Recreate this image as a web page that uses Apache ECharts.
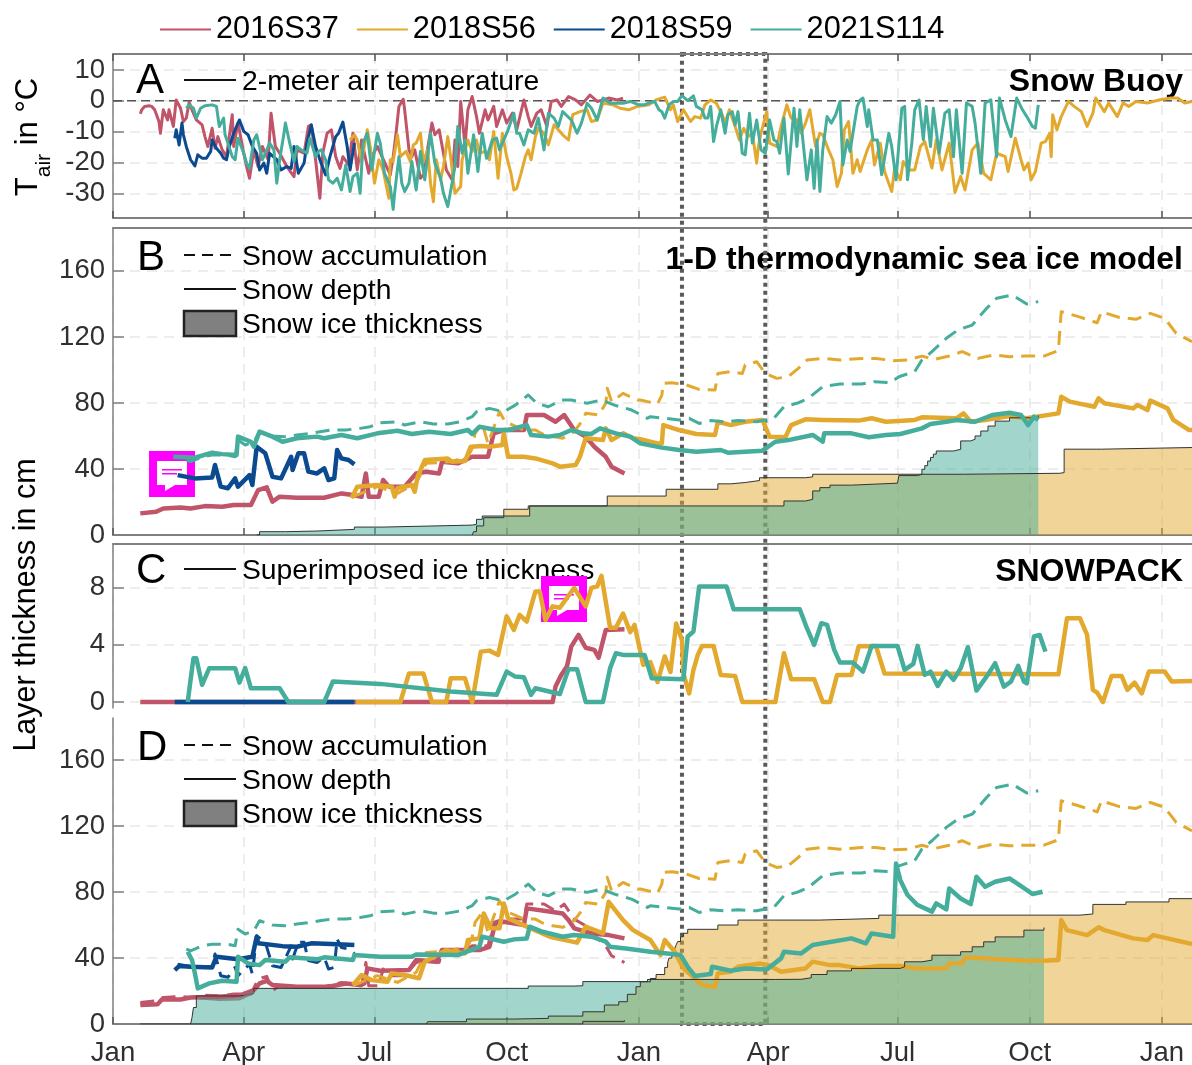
<!DOCTYPE html>
<html>
<head>
<meta charset="utf-8">
<title>Snow on sea ice</title>
<script src="https://cdn.jsdelivr.net/npm/echarts@6/dist/echarts.min.js"></script>
<style>
  html, body { margin: 0; padding: 0; background: #fff; }
  #chart { width: 1192px; height: 1065px; }
</style>
</head>
<body>
<div id="chart"></div>
<script>
// x values are days since the first January on the axis
var monthDays = [0, 91, 182, 274, 366, 456, 546, 638, 730];
var monthLabels = ['Jan', 'Apr', 'Jul', 'Oct', 'Jan', 'Apr', 'Jul', 'Oct', 'Jan'];
var buoys = ['2016S37', '2018S56', '2018S59', '2021S114'];
var highlightDays = [396, 454];

var tempTicks = [-30, -20, -10, 0, 10];
var thicknessTicks = [0, 40, 80, 120, 160];
var superTicks = [0, 4, 8];

// A: 2-meter air temperature
var airT_2016S37 = [[19,-4.2],[20,-2.9],[22,-1.8],[25,-1.6],[27,-1.8],[29,-2.9],[32,-6.7],[33,-10.5],[35,-2.9],[36,-2.4],[38,-6.2],[39,-2.9],[42,-8.3],[44,0.3],[47,-2.4],[49,-6.7],[51,-5.6],[53,-0.5],[55,-2.9],[58,-6.2],[62,-7.8],[64,-11.6],[66,-14.8],[69,-8.9],[71,-15.4],[73,-11.6],[76,-15.9],[79,-18.1],[83,-4.5],[84,-14.8],[87,-7.2],[91,-17],[93,-21.3],[95,-25.1],[98,-15.9],[101,-21.3],[104,-14.8],[106,-17],[108,-19.1],[110,-4],[113,-14.8],[116,-17],[121,-21.3],[126,-24.6],[128,-15.9],[133,-17],[136,-8.3],[138,-7.8],[141,-19.1],[144,-31.6],[146,-17],[149,-10.5],[152,-9.4],[155,-18.1],[158,-21.9],[160,-18.1],[164,-20.8],[167,-10.5],[170,-22.4],[173,-12.7],[178,-23.5],[180,-18.1],[184,-14.8],[193,-24],[195,-18.1],[197,-10.5],[199,-1.8],[202,0.5],[203,-2.9],[206,-15.9],[208,-18.1],[210,-15.9],[214,-25.1],[217,-23.5],[218,-18.1],[222,-7.2],[224,-11],[227,-9.4],[230,-17],[232,-22.4],[236,-25.6],[238,-12.7],[240,-21.3],[242,-0.2],[245,-14.8],[247,-2.9],[250,1.4],[253,-5.1],[255,-10.5],[259,-2.9],[261,-6.2],[265,-1.8],[267,-8.3],[271,-2.9],[274,-7.2],[278,-4],[281,-9.4],[286,0.3],[289,-5.1],[291,-8.3],[295,-4],[298,-2.9],[302,-8.3],[305,-0.2],[309,0.3],[312,-1.8],[317,1.4],[322,0.3],[326,-1.3],[332,1.9],[337,-0.2],[341,0.3],[345,0.9],[351,0.3],[355,0.9]];
var airT_2018S59 = [[43,-12.1],[44,-9.4],[46,-14.3],[48,-7.2],[49,-11],[51,-14.8],[54,-19.1],[57,-21.1],[59,-17.5],[62,-18.6],[65,-18.6],[68,-16.4],[69,-12.7],[72,-15.4],[75,-17],[77,-18.6],[79,-19.1],[81,-14.8],[84,-10.5],[86,-8.3],[88,-6.2],[91,-9.9],[94,-11],[97,-14.8],[100,-17],[102,-22.4],[105,-20.2],[107,-23.5],[109,-17],[114,-19.1],[117,-22.4],[121,-21.3],[124,-21.9],[126,-14.8],[129,-23.5],[133,-20.2],[135,-13.7],[138,-7.8],[141,-14.8],[144,-19.1],[148,-24],[151,-18.1],[155,-11.6],[157,-10.5],[160,-6.9],[163,-14.8],[165,-22.4],[168,-13.7]];
var airT_2021S114 = [[51,-2.4],[53,-1.3],[56,-2.4],[58,-5.6],[61,-2.4],[64,-1.6],[69,-1.3],[72,-1.8],[74,-8.3],[77,-5.6],[78,-11],[80,-13.7],[83,-18.1],[85,-19.1],[87,-12.1],[91,-17],[93,-20.2],[95,-21.9],[98,-12.7],[100,-11],[104,-19.1],[106,-17],[109,-13.7],[112,-15.9],[114,-26.7],[116,-19.1],[119,-10.5],[120,-7.2],[123,-13.7],[126,-19.7],[128,-14.8],[131,-15.9],[135,-17],[137,-12.1],[141,-18.1],[143,-16.4],[145,-15.9],[148,-19.1],[150,-25.6],[153,-26.7],[156,-25.1],[159,-28.9],[162,-20.8],[165,-29.4],[167,-24.6],[170,-23.5],[172,-30],[174,-13.7],[177,-10.5],[180,-22.4],[184,-10.5],[186,-13.7],[189,-23.5],[192,-26.7],[193,-27.8],[195,-35.2],[196,-30],[199,-18.1],[201,-26.7],[203,-29.4],[206,-26.7],[208,-19.7],[211,-28.9],[214,-16.4],[217,-25.6],[221,-10.5],[224,-20.2],[228,-25.1],[230,-30],[233,-34.3],[236,-26.7],[238,-21.3],[240,-8.3],[243,-17],[245,-12.7],[247,-23.5],[251,-11],[254,-22.9],[257,-10.5],[260,-18.6],[264,-12.7],[267,-12.1],[269,-15.9],[273,-11.6],[275,-9.4],[279,-4],[281,-10.5],[283,-10.5],[286,-14.3],[289,-9.4],[293,-10.5],[296,-5.6],[300,-15.9],[303,-4],[307,-5.6],[310,-8.3],[313,-3.5],[319,-6.2],[323,-10.5],[326,-7.2],[330,-0.8],[333,-2.4],[337,-6.2],[341,0.9],[346,-0.8],[351,-0.8],[355,-0.8],[360,-0.2],[366,-1.3],[370,-1.3],[374,-0.5],[377,-0.2],[380,-2.9],[382,-3.5],[384,-5.6],[387,-1.3],[390,-0.2],[393,-0.2],[396,1.7],[400,0.1],[404,1.6],[406,-1.8],[410,-2.9],[412,-5.6],[414,-5.6],[416,-1.8],[418,-13.2],[420,-8.3],[423,-2.9],[426,-10.5],[428,-4.5],[431,-3.5],[433,-7.8],[435,-3.5],[438,-17],[440,-17.5],[443,-4],[445,-13.7],[448,-6.2],[451,-15.9],[454,-17],[457,-6.2],[460,-12.7],[462,-13.2],[464,-17],[467,-5.6],[470,-23.7],[474,-2.4],[476,-14.8],[478,-2.9],[483,-25.6],[486,-15.9],[488,-28.4],[490,-12.7],[492,-29.4],[494,-15.9],[497,-5.1],[500,-7.2],[503,-4.5],[506,-0.2],[508,-20.8],[511,-12.7],[513,-16.4],[515,-10.5],[518,-1.8],[520,0.3],[522,0.9],[525,-8.3],[526,-2.9],[529,-12.7],[532,-12.7],[535,-24],[540,-10.5],[542,-14.8],[545,-25.6],[549,-2.4],[551,-1.8],[553,-25.6],[556,-13.7],[558,-2.9],[561,0.3],[564,-12.6],[566,-1.8],[569,-14.8],[571,-2.4],[575,-17],[579,-4],[582,-2.9],[585,-18.1],[587,-2.9],[591,-23.5],[594,-0.7],[598,-1.8],[600,-7.2],[604,-23.5],[607,-0.7],[611,0.3],[615,-18.1],[617,0.9],[621,-6.2],[625,-11.6],[629,0.9],[633,-2.9],[636,-5.1],[640,-8.3],[642,-8.9],[644,-1.3]];
var airT_2018S56 = [[165,-12.7],[168,-11],[170,-12.7],[173,-19.7],[177,-9.4],[179,-14.8],[182,-26.7],[185,-19.1],[188,-22.4],[192,-31.6],[193,-19.1],[195,-19.7],[198,-11],[200,-18.1],[204,-16.4],[207,-19.7],[209,-14.3],[211,-13.7],[214,-10.5],[216,-19.7],[219,-15.9],[221,-26.7],[223,-32.7],[225,-19.1],[228,-25.6],[230,-21.3],[233,-11.6],[235,-18.1],[238,-30],[242,-27.8],[243,-19.1],[247,-12.7],[250,-16.4],[253,-12.7],[255,-17],[259,-16.4],[262,-19.1],[265,-9.9],[268,-25.1],[271,-10.5],[274,-18.1],[277,-23.5],[279,-28.9],[281,-28.4],[284,-23.5],[287,-18.1],[289,-15.9],[291,-19.1],[294,-11.6],[296,-8.9],[300,-10.5],[303,-14.3],[307,-7.8],[310,-9.4],[313,-11],[317,-12.7],[320,-4.5],[325,-3.5],[330,-2.9],[333,-6.7],[337,-6.2],[341,-0.8],[348,-1.3],[353,-2.4],[359,-2.9],[365,-1.8],[373,-1.3],[378,0.3],[384,1.2],[388,-2.9],[390,-1.3],[393,-6.7],[397,-2.9],[402,-6.7],[405,-5.1],[409,-5.6],[412,-1.3],[416,0.3],[420,-0.8],[424,-4.5],[426,-7.2],[429,-2.9],[433,-8.3],[436,-12.7],[439,-8.9],[442,-11.6],[445,-10.5],[448,-20.2],[449,-15.4],[451,-10.5],[455,-3.5],[457,-13.7],[462,-14.8],[465,-8.3],[469,-1.3],[472,-5.6],[476,-6.2],[479,-10.5],[482,-7.2],[485,-2.9],[489,-14.8],[492,-10.5],[494,-11],[498,-15.9],[501,-19.1],[504,-27.8],[507,-23.5],[509,-9.4],[512,-6.7],[515,-23.5],[518,-19.1],[520,-22.9],[525,-15.9],[528,-12.7],[530,-20.8],[534,-13.7],[537,-22.9],[542,-29.4],[544,-21.9],[548,-25.6],[550,-19.7],[554,-22.4],[558,-22.4],[562,-14.8],[565,-13.2],[570,-21.8],[573,-12.6],[577,-22.4],[582,-13.7],[586,-29.7],[590,-24.5],[593,-28.9],[598,-15.9],[602,-13.7],[606,-23.5],[611,-25.6],[615,-17],[621,-18.1],[623,-22.9],[628,-12.1],[632,-19.1],[634,-22.4],[637,-20.2],[639,-25.6],[642,-22.9],[646,-13.7],[649,-13.2],[652,-10.5],[653,-18.1],[654,-4.5],[657,-9.4],[660,-5.1],[665,-0.2],[669,-1.8],[674,-3.5],[678,-8.3],[682,-4],[684,0.9],[690,-3.5],[693,-0.7],[699,-5.1],[703,-0.7],[707,-1.8],[712,-0.2],[720,-0.7],[728,0.3],[736,0.9],[741,0.9],[746,-0.7],[751,-0.2]];
var zeroLine = [[0, 0], [751, 0]];

// B: 1-D thermodynamic sea ice model, snow depth
var depthB_2016S37 = [[19,13.1],[30,14.1],[35,16.1],[47,16.7],[54,16.1],[64,17.5],[76,17.1],[84,18.2],[96,18.2],[101,27.2],[107,28.9],[111,20.2],[116,23.2],[128,22.6],[147,22.6],[159,25.2],[167,24.2],[173,23.2],[176,37.3],[178,23.2],[185,23.2],[188,33.3],[192,29.3],[203,29.3],[211,37.3],[218,38.3],[227,37.3],[229,44.4],[240,43.4],[250,47.4],[261,47.4],[265,61.6],[272,63.6],[286,63.6],[288,72.7],[300,72.7],[308,68.6],[314,72.7],[321,63.6],[329,59.6],[335,53.5],[343,47.4],[347,41.4],[356,37.3]];
var depthB_2018S59 = [[45,36.3],[57,34.3],[69,34.9],[71,42.4],[75,29.3],[80,28.3],[85,34.3],[87,29.3],[95,36.3],[97,30.3],[100,53.5],[106,49.5],[111,35.3],[117,34.3],[124,47.4],[125,39.4],[129,49.5],[133,49.5],[136,38.4],[142,37.3],[147,40.4],[150,33.3],[154,34.3],[156,51.5],[159,46.4],[164,45.4],[168,42.8]];
var depthB_2021S114 = [[42,47.4],[57,46.8],[69,49.9],[76,49],[86,48.4],[87,59.6],[96,56.5],[98,53.5],[102,62.6],[111,59.6],[118,56.5],[128,58.6],[142,59.6],[147,58.6],[159,60.6],[170,58.6],[184,61.6],[198,63.2],[208,61.2],[220,62.6],[235,61.2],[247,63.6],[250,61.2],[255,65.6],[267,63.6],[275,63.6],[288,66.6],[291,60.6],[303,59.6],[311,60.6],[319,63.6],[327,61.6],[333,61.2],[339,64.6],[350,61.6],[360,59.6],[367,55.5],[381,53.1],[394,51.5],[406,50.5],[423,51.5],[428,49.9],[452,51.1],[461,56.5],[470,57.5],[487,60.6],[494,56.5],[495,61.6],[514,61.6],[526,59.2],[538,60.6],[548,61.2],[563,64.6],[569,67.2],[580,68.6],[587,69.7],[600,68.6],[612,72.7],[624,74.1],[632,72.7],[637,66.6],[641,71.7],[644,69.7]];
var depthB_2018S56 = [[166,22.2],[170,29.3],[184,30.3],[194,29.3],[196,23.2],[198,28.3],[208,30.3],[210,26.2],[212,35.3],[217,45.4],[233,46.4],[236,44.4],[245,44.8],[249,53.5],[257,53.9],[262,53.5],[271,54.5],[272,61.6],[275,47.4],[286,47.4],[294,46.4],[306,43.4],[311,41.4],[322,42.4],[325,47.4],[329,58.6],[341,57.5],[343,64.6],[347,57.5],[355,61.6],[362,58.6],[367,58],[379,55.5],[382,55.5],[383,66.6],[394,63.6],[406,61.2],[419,60.6],[421,68.6],[430,66.6],[440,68.6],[452,69.7],[457,59.6],[468,59.2],[472,66.6],[482,70.1],[494,69.7],[519,69.3],[528,70.7],[538,68.6],[558,69.7],[563,71.3],[587,70.7],[592,73.7],[597,68.6],[607,69.7],[624,72.1],[636,70.7],[658,73.7],[660,83.8],[666,80.8],[683,77.7],[686,82.8],[690,79.8],[710,76.7],[713,78.8],[720,75.7],[722,81.4],[734,76.7],[738,69.7],[749,63.6],[751,63.6]];

// snow accumulation is the same forcing in panels B and D
var accum_2021S114 = [[51,45.4],[54,44.4],[62,47.4],[69,48.4],[79,48.4],[85,47.4],[87,57.5],[92,54.5],[98,56.5],[102,62.6],[111,60],[119,59.6],[128,60.6],[138,61.6],[144,62.6],[152,63.6],[162,63.6],[172,64.6],[179,65.6],[186,68],[198,68.6],[203,66.6],[214,68.6],[223,67.2],[233,67.2],[242,68.6],[250,71.7],[253,74.7],[262,76.7],[272,74.7],[280,78.7],[289,84.8],[295,79.8],[303,77.7],[312,81.8],[319,81.8],[330,79.8],[340,81.8],[349,78.7],[361,75.7],[372,70.7],[374,71.7],[384,70.7],[394,69.7],[401,70.7],[408,67.6],[416,69.3],[425,68.6],[435,69.3],[448,68.6],[460,70.7],[467,77.7],[476,79.8],[484,82.8],[494,89.9],[506,91.5],[521,91.5],[530,92.9],[541,92.3],[547,95.9],[558,99],[563,106],[570,111.1],[580,119.2],[588,124.2],[598,127.2],[608,137.3],[615,143.4],[626,145.4],[636,140],[644,141.4]];
var accum_2018S56 = [[167,23.2],[184,29.3],[198,25.2],[211,31.3],[218,43.4],[235,44.4],[247,47.4],[250,52.5],[252,61.6],[257,67.6],[261,55.5],[269,74.7],[273,68.6],[286,63.6],[294,63.6],[299,61.2],[306,59.6],[313,58.6],[321,62.6],[327,69.7],[329,73.7],[338,72.7],[343,79.8],[344,88.9],[347,80.8],[355,85.8],[365,81.8],[367,81.8],[379,79.4],[382,84.8],[383,91.9],[389,92.3],[399,90.9],[408,88.2],[419,87.8],[421,97.9],[430,99],[438,97.9],[440,103],[448,105],[454,97.9],[462,94.9],[470,95.9],[477,101],[483,106],[494,107],[506,106],[521,107],[531,107],[543,105.6],[553,106],[563,108.4],[572,106.4],[582,108.4],[591,111.1],[602,107],[613,109.1],[624,108],[635,108.4],[648,108.4],[658,111.7],[660,135.3],[672,132.3],[685,128.6],[688,135.3],[700,131.9],[712,130.7],[722,134.3],[732,131.3],[740,122.2],[751,117.1]];

// snow ice thickness, panel B
var iceB_2021S114 = [[100,0],[102,2],[120,2.4],[142,3.4],[168,4.8],[188,6],[250,6.5],[253,9.5],[257,11.5],[275,11.5],[290,17.6],[467,20.6],[482,21.6],[487,26.7],[492,28.7],[499,30.2],[514,31.4],[546,32.3],[547,36],[560,36.8],[563,39.8],[565,42],[567,44.8],[569,47],[571,49],[573,50.9],[585,51.9],[590,57],[597,58],[600,60],[604,63],[609,66],[614,69],[624,71],[644,72.5]];
var iceB_2018S56 = [[250,0],[251,2],[253,5.5],[258,10.5],[272,15.6],[289,17.6],[344,23.6],[385,27.7],[421,31],[430,31.8],[440,33],[450,34.7],[482,35.2],[487,36.8],[592,37.4],[659,37.8],[662,52],[688,53],[751,53]];

// C: SNOWPACK, superimposed ice thickness
var superC_2016S37 = [[19,0],[306,0],[308,1.08],[312,1.9],[316,2.5],[319,3.9],[324,4.7],[329,3.8],[335,3.65],[338,3.1],[343,5.05],[356,5.1]];
var superC_2018S59 = [[43,0],[168,0]];
var superC_2018S56 = [[169,0],[200,0],[206,2],[216,2],[222,0],[232,0],[235,1.66],[245,1.66],[250,0],[256,3.53],[262,3.6],[268,3.3],[274,6],[279,5.05],[283,6.1],[288,5.64],[294,7.75],[297,7.75],[301,5.75],[306,6.7],[311,6.6],[321,8],[329,6.7],[333,8],[337,8.1],[340,8.84],[346,5.2],[350,5.2],[355,6.2],[360,4.9],[363,5.4],[369,2.6],[374,2.8],[379,1.4],[384,3.2],[388,2.1],[392,5.5],[396,4.35],[397,2],[401,0.6],[404,2.25],[407,3.3],[410,3.93],[418,3.93],[423,1.9],[433,1.83],[438,0],[461,0],[467,3.42],[472,1.6],[488,1.6],[494,0],[499,0],[504,1.9],[514,1.9],[519,3.9],[531,3.93],[537,2],[658,1.94],[664,5.87],[673,5.87],[678,4.7],[682,0.85],[685,0.66],[689,0],[695,1.83],[702,1.83],[706,0.85],[711,1.36],[716,0.6],[721,2.13],[732,2.13],[737,1.43],[751,1.48]];
var superC_2021S114 = [[52,0],[54,1.55],[56,3.07],[58,3.07],[62,1.2],[67,2.37],[85,2.37],[88,1.36],[92,2.37],[96,0.96],[116,0.96],[122,0],[147,0],[153,1.43],[186,1.27],[235,0.73],[267,0.5],[274,2.13],[280,1.78],[286,1.73],[291,0.5],[294,0.96],[311,0.56],[317,2.3],[323,2.3],[329,0],[341,0],[346,2.37],[350,3.42],[355,3.3],[370,3.3],[375,1.66],[397,1.6],[400,4.59],[404,4.94],[408,8.1],[427,8.1],[432,6.5],[478,6.5],[483,5.17],[488,4],[493,5.52],[497,5.4],[502,3.65],[506,2.76],[515,2.76],[522,2.13],[528,3.93],[546,3.93],[551,2.25],[557,2.67],[560,3.93],[565,1.9],[569,2.13],[574,1.12],[580,2.13],[585,1.55],[590,2.37],[595,3.84],[601,0.8],[608,1.78],[614,2.72],[620,1.08],[625,1.43],[630,2.53],[634,1.43],[636,1.31],[641,4.59],[645,4.7],[649,3.53]];

// D: SNOWPACK, snow depth
var depthD_2016S37 = [[19,11.5],[31,11.9],[34,14.9],[47,14.9],[54,16.1],[74,16.5],[89,17.5],[98,20.6],[102,24.6],[107,26.2],[111,23.6],[128,22.6],[150,22.6],[162,24.6],[172,23.6],[175,24.6],[177,33.7],[186,32.3],[206,32.7],[211,38.8],[225,37.8],[229,44.8],[255,44.8],[262,46.8],[266,61],[272,62],[286,60],[288,70.1],[300,68.7],[313,67],[317,63],[321,58],[333,54.9],[345,53.9],[356,51.9]];
var depthD_2018S59 = [[43,32.7],[46,35.1],[54,34.7],[69,34.3],[72,40.8],[87,39.2],[97,40.8],[100,52.9],[101,48.9],[118,47.2],[128,46.8],[138,48.9],[152,48.5],[168,47.9]];
var depthD_2021S114 = [[52,43.8],[55,38.8],[57,30.7],[59,21.6],[67,24.6],[76,26.2],[86,25.6],[87,40.8],[94,36.7],[102,35.7],[106,38.8],[120,37.8],[123,40.4],[142,39.2],[147,40.4],[167,38.8],[168,41.8],[186,40.8],[208,40.8],[211,42.2],[240,41.8],[255,46.8],[257,52.9],[272,49.9],[279,51.3],[288,51.9],[290,59],[299,55.9],[313,52.9],[321,53.9],[333,52.9],[343,49.9],[346,46.8],[357,45.8],[374,43.8],[381,43.2],[395,41.8],[400,34.7],[405,29.1],[416,30.3],[417,34.7],[430,32.3],[440,33.7],[455,33.1],[465,39.8],[467,43.8],[479,42.8],[487,47.9],[494,48.9],[514,51.9],[524,48.9],[528,54.9],[543,52.9],[545,97.3],[548,87.2],[553,78.2],[560,72.1],[570,68.1],[573,73.1],[580,69.5],[582,82.2],[590,76.1],[597,72.7],[601,89.3],[607,83.2],[614,86.2],[624,88.2],[631,84.2],[640,78.8],[647,80.2]];
var depthD_2018S56 = [[167,23.6],[173,29.7],[180,26.6],[191,25.6],[194,30.7],[203,29.7],[213,27.7],[217,37.8],[232,44.8],[245,42.8],[247,50.9],[255,51.9],[258,67],[263,58],[269,58],[272,73.1],[275,64],[288,59],[304,52.9],[323,49.3],[329,59],[341,54.9],[345,74.1],[355,63],[362,56.9],[374,50.9],[381,41.8],[384,50.9],[391,43.8],[397,33.7],[405,27.6],[410,23.6],[419,22.6],[421,30.7],[430,31.7],[435,34.7],[450,36.7],[456,35.7],[465,31.7],[482,33.7],[487,37.8],[499,35.7],[506,35.7],[519,33.7],[533,35.1],[548,35.1],[560,33.7],[580,33.7],[582,36.7],[591,36.7],[593,40.4],[612,39.4],[636,38.4],[648,38.4],[658,38.8],[660,63],[664,56.9],[678,53.9],[686,58.6],[690,56.9],[710,51.9],[720,50.9],[724,53.9],[734,51.9],[751,48.5]];

// snow ice thickness, panel D
var iceD_2016S37 = [[19,0],[320,0],[327,1.6],[356,2.2]];
var iceD_2018S56 = [[218,0],[219,1.4],[246,3],[262,3],[279,3.4],[303,4.8],[327,7.4],[342,11.5],[352,13.5],[358,18],[364,22.6],[367,25.6],[374,27.6],[378,30],[384,34.3],[386,37],[387,40],[389,43],[391,46],[392,48],[393,50],[395,52.9],[397,55],[400,57.4],[421,60],[435,63],[492,64],[533,66],[673,66.7],[682,72.5],[705,74],[735,76],[751,76]];
var iceD_2021S114 = [[54,0],[55,4],[56,10],[58,17],[88,17.5],[93,18.5],[98,21.6],[279,21.6],[289,23],[321,23.2],[327,25.7],[372,27],[461,27.1],[479,28],[486,30],[497,32.2],[514,33.7],[548,34.7],[551,37.7],[563,38.7],[570,41.7],[590,43.8],[598,46.8],[606,49.8],[614,52.8],[634,56.9],[648,58.5]];
var iceD_shadow = [[60,15.8],[74,14.9],[88,15.2],[94,17.5],[98,19.6]];

var colors = { '2016S37': '#c05468', '2018S56': '#e3a92f', '2018S59': '#0b4a8f', '2021S114': '#45ad9b' };
var FONT = '"Liberation Sans", Helvetica, Arial, sans-serif';

var dom = document.getElementById('chart');
var myChart = echarts.init(dom, null, { renderer: 'canvas' });

var panels = [
  { top: 54, height: 164, min: -38, max: 15.2, ticks: tempTicks },
  { top: 228, height: 307, min: 0, max: 186, ticks: thicknessTicks },
  { top: 544, height: 164, min: -0.42, max: 11.07, ticks: superTicks },
  { top: 718, height: 306, min: 0, max: 185.5, ticks: thicknessTicks }
];

function lineSeries(panel, buoy, data, width, dash) {
  return {
    type: 'line',
    name: buoy,
    xAxisIndex: panel,
    yAxisIndex: panel,
    data: data,
    symbol: 'none',
    silent: true,
    color: colors[buoy],
    lineStyle: { color: colors[buoy], width: width, type: dash ? [14, 8] : 'solid', join: 'round' }
  };
}

function areaSeries(panel, buoy, data) {
  return {
    type: 'line',
    name: buoy,
    xAxisIndex: panel,
    yAxisIndex: panel,
    data: data,
    step: 'end',
    symbol: 'none',
    silent: true,
    lineStyle: { color: '#333', width: 1 },
    areaStyle: { color: colors[buoy], opacity: 0.5 }
  };
}

function bottomAxis(i) {
  return {
    type: 'value', gridIndex: i, min: 0, max: 751, position: 'bottom',
    axisLine: { show: i != 2, onZero: false, lineStyle: { color: '#808080', width: 2 } },
    axisTick: { show: i != 2, inside: true, length: 7, customValues: monthDays, lineStyle: { color: '#555', width: 1.5 } },
    axisLabel: {
      show: i == 3, customValues: monthDays, margin: 15, fontSize: 27.5, color: '#303030', fontFamily: FONT,
      hideOverlap: false, showMinLabel: true, showMaxLabel: true,
      formatter: function (v) { return monthLabels[monthDays.indexOf(v)] || ''; }
    },
    splitLine: { show: true, lineStyle: { color: '#e8e8e8', width: 1.5, type: [10, 7] } }
  };
}

function topAxis(i) {
  return {
    type: 'value', gridIndex: i, min: 0, max: 751, position: 'top',
    axisLine: { show: true, onZero: false, lineStyle: { color: '#808080', width: 2 } },
    axisTick: { show: i == 0, inside: true, length: 7, customValues: monthDays, lineStyle: { color: '#555', width: 1.5 } },
    axisLabel: { show: false },
    splitLine: { show: false }
  };
}

function yAxis(p, i) {
  return {
    type: 'value', gridIndex: i, min: p.min, max: p.max, position: 'left',
    axisLine: { show: true, onZero: false, lineStyle: { color: '#808080', width: 1.5 } },
    axisTick: { show: true, inside: true, length: 11, customValues: p.ticks, lineStyle: { color: '#808080', width: 1.5 } },
    axisLabel: {
      customValues: p.ticks, margin: 8, fontSize: 27.5, color: '#303030', fontFamily: FONT,
      padding: [6, 0, 0, 0], showMinLabel: true, showMaxLabel: true
    },
    splitLine: { show: true, lineStyle: { color: '#e8e8e8', width: 1.5, type: [10, 7] } }
  };
}

var series = [
  lineSeries(0, '2016S37', airT_2016S37, 3),
  lineSeries(0, '2018S56', airT_2018S56, 3),
  lineSeries(0, '2018S59', airT_2018S59, 3),
  lineSeries(0, '2021S114', airT_2021S114, 3),

  lineSeries(1, '2016S37', depthB_2016S37, 4.5),
  areaSeries(1, '2018S56', iceB_2018S56),
  lineSeries(1, '2018S56', accum_2018S56, 3, true),
  lineSeries(1, '2018S56', depthB_2018S56, 4.5),
  lineSeries(1, '2018S59', depthB_2018S59, 4.5),
  areaSeries(1, '2021S114', iceB_2021S114),
  lineSeries(1, '2021S114', accum_2021S114, 3, true),
  lineSeries(1, '2021S114', depthB_2021S114, 4.5),

  lineSeries(2, '2016S37', superC_2016S37, 4.5),
  lineSeries(2, '2018S56', superC_2018S56, 4.5),
  lineSeries(2, '2018S59', superC_2018S59, 4.5),
  lineSeries(2, '2021S114', superC_2021S114, 4.5),

  areaSeries(3, '2016S37', iceD_2016S37),
  lineSeries(3, '2016S37', depthB_2016S37, 3, true),
  lineSeries(3, '2016S37', depthD_2016S37, 4.5),
  areaSeries(3, '2018S56', iceD_2018S56),
  lineSeries(3, '2018S56', accum_2018S56, 3, true),
  lineSeries(3, '2018S56', depthD_2018S56, 4.5),
  lineSeries(3, '2018S59', depthB_2018S59, 3, true),
  lineSeries(3, '2018S59', depthD_2018S59, 4.5),
  areaSeries(3, '2021S114', iceD_2021S114),
  lineSeries(3, '2021S114', accum_2021S114, 3, true),
  lineSeries(3, '2021S114', depthD_2021S114, 4.5)
];

// reference line at 0 degrees, drawn under the temperature traces
series.unshift({
  type: 'line', name: 'zero', xAxisIndex: 0, yAxisIndex: 0, data: zeroLine, symbol: 'none', silent: true,
  lineStyle: { color: '#555', width: 1.5, type: [9, 5] }
});
// dark shadow along the top of the teal slab in D
series.push({
  type: 'line', name: 'shadow', xAxisIndex: 3, yAxisIndex: 3, data: iceD_shadow, symbol: 'none', silent: true,
  lineStyle: { color: '#777', width: 3, opacity: 0.75 }
});

var option = {
  animation: false,
  backgroundColor: '#fff',
  legend: {
    data: buoys, left: 154, top: 9, itemWidth: 51, itemHeight: 3, itemGap: 17,
    selectedMode: false,
    itemStyle: { opacity: 0 },
    textStyle: { fontSize: 30.7, color: '#000', fontFamily: FONT }
  },
  grid: panels.map(function (p) {
    return { left: 113, right: 0, top: p.top, height: p.height, outerBoundsMode: 'none' };
  }),
  xAxis: panels.map(function (p, i) { return bottomAxis(i); })
    .concat([topAxis(0), topAxis(1), topAxis(2)]),
  yAxis: panels.map(yAxis),
  series: series
};
myChart.setOption(option);

function label(x, y, str, size, bold, align) {
  return {
    type: 'text', x: x, y: y, silent: true,
    style: {
      text: str, fontSize: size, fontWeight: bold ? 'bold' : 'normal', fontFamily: FONT,
      fill: '#000', textAlign: align || 'left', textVerticalAlign: 'middle'
    }
  };
}

function keyLine(y, dashed) {
  return {
    type: 'line', silent: true,
    shape: { x1: 184, y1: y, x2: 236, y2: y },
    style: { stroke: '#111', lineWidth: 2, lineDash: dashed ? [11, 7] : null }
  };
}

function keyBox(y) {
  return {
    type: 'rect', silent: true,
    shape: { x: 184, y: y, width: 52, height: 25 },
    style: { fill: '#808080', stroke: '#222', lineWidth: 2.5 }
  };
}

function flat(x, y, w, h, fill) {
  return { type: 'rect', silent: true, shape: { x: x, y: y, width: w, height: h }, style: { fill: fill } };
}

// the pink comment markers sitting on top of the figure
function commentMark(x, y) {
  var pink = '#ff00ff';
  return [
    flat(x + 8, y + 10, 30, 24, 'rgba(255,255,255,0.82)'),
    flat(x, y, 46, 10, pink),
    flat(x, y + 10, 8, 24, pink),
    flat(x + 38, y + 10, 8, 24, pink),
    flat(x, y + 34, 46, 12, pink),
    {
      type: 'polygon', silent: true,
      shape: { points: [[x + 16, y + 34], [x + 26, y + 34], [x + 16, y + 40]] },
      style: { fill: '#fff' }
    },
    flat(x + 13, y + 18, 20, 1.5, pink),
    flat(x + 13, y + 22, 15, 1.5, pink)
  ];
}

var boxLeft = myChart.convertToPixel({ xAxisIndex: 0 }, highlightDays[0]);
var boxRight = myChart.convertToPixel({ xAxisIndex: 0 }, highlightDays[1]);

var graphics = [
  label(136, 81, 'A', 42), label(137, 258, 'B', 42), label(136, 571, 'C', 42), label(137, 748, 'D', 42),

  keyLine(80), label(242, 82, '2-meter air temperature', 28.3),
  label(1183, 82, 'Snow Buoy', 32, true, 'right'),

  keyLine(255, true), label(242, 257, 'Snow accumulation', 28.3),
  keyLine(289), label(242, 291, 'Snow depth', 28.3),
  keyBox(311), label(242, 325, 'Snow ice thickness', 28.3),
  label(1183, 260, '1-D thermodynamic sea ice model', 32, true, 'right'),

  keyLine(569), label(242, 571, 'Superimposed ice thickness', 28.3),
  label(1183, 572, 'SNOWPACK', 32, true, 'right'),

  keyLine(745, true), label(242, 747, 'Snow accumulation', 28.3),
  keyLine(779), label(242, 781, 'Snow depth', 28.3),
  keyBox(801), label(242, 815, 'Snow ice thickness', 28.3),

  {
    type: 'text', x: 27, y: 605, rotation: Math.PI / 2, silent: true,
    style: {
      text: 'Layer thickness in cm', fontSize: 30.5, fontFamily: FONT, fill: '#000',
      textAlign: 'center', textVerticalAlign: 'middle'
    }
  },
  {
    type: 'text', x: 34, y: 137, rotation: Math.PI / 2, silent: true,
    style: {
      text: '{t|T}{s|air}{t| in °C}', textAlign: 'center', textVerticalAlign: 'middle',
      rich: {
        t: { fontSize: 31, fontFamily: FONT, fill: '#000', lineHeight: 34, verticalAlign: 'top' },
        s: { fontSize: 21, fontFamily: FONT, fill: '#000', lineHeight: 42, verticalAlign: 'bottom' }
      }
    }
  },
  {
    type: 'rect', silent: true,
    shape: { x: boxLeft, y: 54, width: boxRight - boxLeft, height: 970 },
    style: { fill: null, stroke: '#5a5a5a', lineWidth: 4, lineDash: [4, 4] }
  }
].concat(commentMark(149, 451), commentMark(541, 576));

myChart.setOption({ graphic: graphics });

window.addEventListener('resize', myChart.resize);
</script>
</body>
</html>
